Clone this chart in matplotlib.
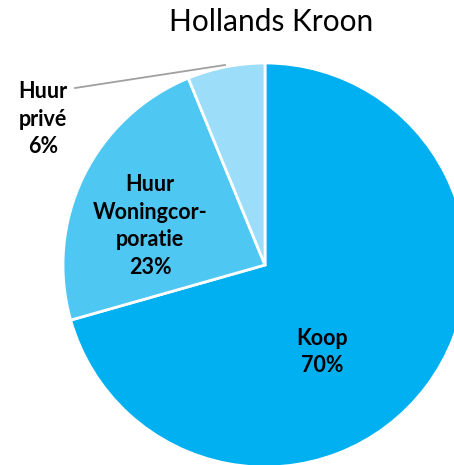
import matplotlib.pyplot as plt

# data
categories = ['Koop', 'Huur\nWoningcor-\nporatie', 'Huur\nprivé']
values = [70.6, 23.2, 6.2]
pct_labels = ['70%', '23%', '6%']
colors = ['#00B0F0', '#4FC7F3', '#9CDEF9']

plt.rcParams['font.family'] = ['Lato', 'DejaVu Sans']

fig = plt.figure(figsize=(4.54, 4.65), dpi=100)
ax = fig.add_axes([0, 0, 1, 1])

# pie in pixel-like coords so it is cut off by the figure edge like the original
cx, cy, r = 265, 465 - 265, 202
ax.pie(values, colors=colors, startangle=90, counterclock=False,
       center=(cx, cy), radius=r,
       wedgeprops=dict(edgecolor='white', linewidth=2))
ax.set_xlim(0, 454)
ax.set_ylim(0, 465)
ax.set_aspect('equal')
ax.axis('off')

ax.text(271, 465 - 22, 'Hollands Kroon', ha='center', va='center', fontsize=21.5)

# slice labels
lbl_pos = [(322, 465 - 352), (150, 465 - 226), (43, 465 - 119)]
for name, pct, (x, y) in zip(categories, pct_labels, lbl_pos):
    ax.text(x, y, name + '\n' + pct, ha='center', va='center',
            fontsize=15.5, fontweight='bold', linespacing=1.4)

# leader line for the small slice
ax.plot([75, 225], [465 - 88, 465 - 65], color='#A0A0A0', linewidth=1.3)

fig.savefig('out.png', dpi=100)
